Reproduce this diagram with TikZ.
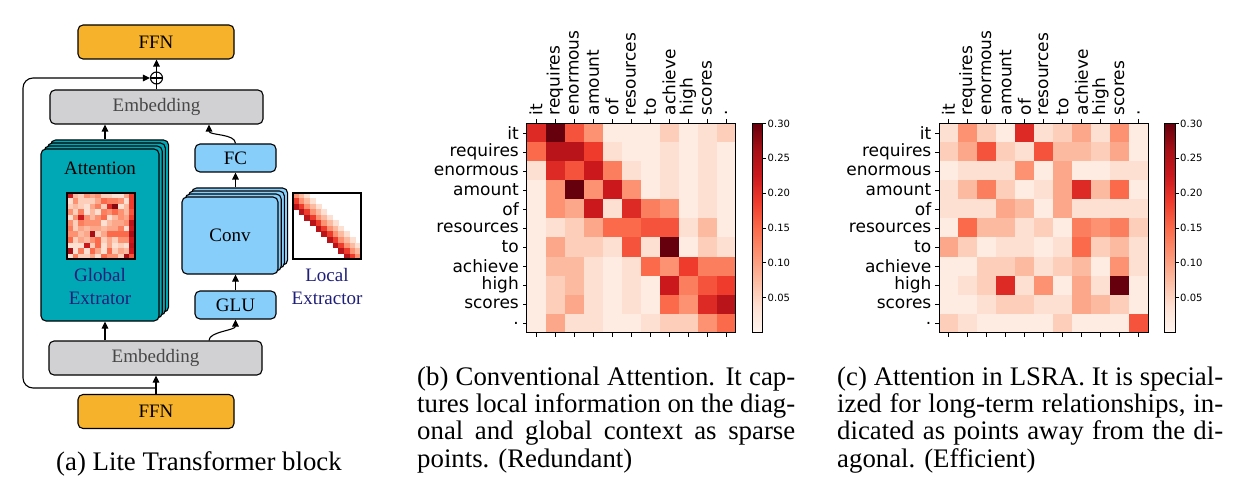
\documentclass[tikz,border=0pt]{standalone}
\usepackage{fontspec}
\setmainfont{Liberation Serif}
\newfontfamily\labfamily{DejaVu Sans}
\usetikzlibrary{arrows.meta}

\definecolor{r0}{HTML}{FFF5F0}
\definecolor{r1}{HTML}{FEEBE1}
\definecolor{r2}{HTML}{FEE0D2}
\definecolor{r3}{HTML}{FDCEBA}
\definecolor{r4}{HTML}{FCBBA1}
\definecolor{r5}{HTML}{FCA78A}
\definecolor{r6}{HTML}{FC9272}
\definecolor{r7}{HTML}{FB7E5E}
\definecolor{r8}{HTML}{FB6A4A}
\definecolor{r9}{HTML}{F5533B}
\definecolor{r10}{HTML}{EF3B2C}
\definecolor{r11}{HTML}{DD2A25}
\definecolor{r12}{HTML}{CB181D}
\definecolor{r13}{HTML}{B81419}
\definecolor{r14}{HTML}{A50F15}
\definecolor{r15}{HTML}{860811}
\definecolor{r16}{HTML}{67000D}
\definecolor{ffnorange}{HTML}{F5B22A}
\definecolor{embgray}{HTML}{D1D1D4}
\definecolor{embtext}{HTML}{474747}
\definecolor{attteal}{HTML}{00A8B5}
\definecolor{convblue}{HTML}{87CEFA}
\definecolor{navy}{HTML}{1F1F7A}

\pgfdeclareverticalshading{reds}{100bp}{color(0bp)=(r0); color(25bp)=(r0);
  color(28.125bp)=(r1); color(31.25bp)=(r2); color(34.375bp)=(r3); color(37.5bp)=(r4);
  color(40.625bp)=(r5); color(43.75bp)=(r6); color(46.875bp)=(r7); color(50bp)=(r8);
  color(53.125bp)=(r9); color(56.25bp)=(r10); color(59.375bp)=(r11); color(62.5bp)=(r12);
  color(65.625bp)=(r13); color(68.75bp)=(r14); color(71.875bp)=(r15); color(75bp)=(r16);
  color(100bp)=(r16)}

\newcommand{\labfont}{\labfamily\fontsize{17}{20}\selectfont}
\newcommand{\barfont}{\labfamily\fontsize{10}{12}\selectfont}
\newcommand{\capfont}{\fontsize{26.8}{27.4}\selectfont}

\tikzset{
  block/.style={
    draw,
    line width=1.1pt,
    rounded corners=5pt,
    inner sep=0pt,
    font=\fontsize{19}{22}\selectfont
  },
  ffnbox/.style={block, fill=ffnorange, minimum width=156pt, minimum height=34pt},
  embbox/.style={block, fill=embgray, text=embtext, minimum width=213pt, minimum height=34pt},
  attbox/.style={block, fill=attteal, minimum width=118pt, minimum height=172pt},
  convbox/.style={block, fill=convblue, minimum width=96pt, minimum height=77pt},
  smallbox/.style={block, fill=convblue, minimum width=81pt, minimum height=28pt},
  mapframe/.style={draw, line width=1.2pt, inner sep=0pt, minimum width=68pt, minimum height=66pt},
  extext/.style={align=center, text=navy, inner sep=0pt, font=\fontsize{19}{23}\selectfont},
  flow/.style={line width=1.1pt, -{Triangle[length=7pt,width=6.5pt]}},
  tick/.style={line width=0.8pt},
  rowlab/.style={anchor=east, inner sep=1pt, font=\labfont},
  collab/.style={rotate=90, anchor=west, inner sep=1pt, font=\labfont},
  barlab/.style={anchor=west, inner sep=1pt, font=\barfont},
  captext/.style={inner sep=0pt, font=\capfont}
}

% #1 name prefix, #2 left edge, #3 rows of colour levels
\newcommand{\attnmap}[3]{%
  \begin{scope}[shift={(#2,123.5)}]
    \foreach \row [count=\ri from 0] in {#3} {
      \foreach \val [count=\ci from 0] in \row {
        \fill[fill=r\val] (\ci*19,\ri*19) rectangle +(19.4,19.4);
      }
    }
    \draw[tick] (0,0) rectangle (209,209);
    \foreach \w [count=\i from 0] in {it,requires,enormous,amount,of,resources,to,achieve,high,scores,.} {
      \draw[tick] (\i*19+9.5,0) -- +(0,-4);
      \draw[tick] (\i*19+9.5,209) -- +(0,4);
      \draw[tick] (0,\i*19+9.5) -- +(-4,0);
      \node[rowlab] (#1row\i) at (-6.5,\i*19+9.5) {\w};
      \node[collab] (#1col\i) at (\i*19+9.5,-7) {\w};
    }
    \shade[shading=reds] (225.5,0) rectangle (236,209);
    \draw[tick] (225.5,0) rectangle (236,209);
    \foreach \t [count=\k] in {0.05,0.10,0.15,0.20,0.25,0.30} {
      \draw[tick] (236,{209-\t*209/0.3}) -- +(3.5,0);
      \node[barlab] (#1bar\k) at (240,{209-\t*209/0.3}) {\t};
    }
  \end{scope}}

\begin{document}
\begin{tikzpicture}[x=1pt,y=-1pt]
  \useasboundingbox (0,0) rectangle (1246,494);

  \node[ffnbox] (ffnin) at (156,411.5) {FFN};
  \node[embbox] (embin) at (155.5,358) {Embedding};

  \node[attbox] (att3) at (109.6,226) {};
  \node[attbox] (att2) at (106.4,229) {};
  \node[attbox] (att1) at (103.2,232) {};
  \node[attbox] (att) at (100,235) {};
  \node[font=\fontsize{19}{22}\selectfont] (atttitle) at (100,168) {Attention};
  \node[extext] (globtext) at (100,286.5) {Global\\Extrator};

  \node[smallbox] (glu) at (235.5,305) {GLU};
  \node[convbox] (conv3) at (239.6,226.5) {};
  \node[convbox] (conv2) at (236.4,229.5) {};
  \node[convbox] (conv1) at (233.2,232.5) {};
  \node[convbox] (conv) at (230,235.5) {Conv};
  \node[smallbox] (fc) at (235.5,158) {FC};
  \node[extext] (loctext) at (327,286.5) {Local\\Extractor};

  \node[embbox] (embout) at (156.5,107) {Embedding};
  \node[draw, circle, line width=1.1pt, minimum size=12pt, inner sep=0pt] (plus) at (156.5,78) {};
  \draw[line width=1.1pt] (plus.north) -- (plus.south) (plus.west) -- (plus.east);
  \node[ffnbox] (ffnout) at (156,42) {FFN};

  % global extractor map
  \pgfmathsetseed{11}
  \foreach \ri in {0,...,11} {
    \foreach \ci in {0,...,11} {
      \pgfmathtruncatemacro\lv{\ci==11 ? 9+6*rnd : (rnd>0.93 ? 11+5*rnd : 2+7*rnd)}
      \fill[fill=r\lv] (67+\ci*5.67,193+\ri*5.5) rectangle +(5.9,5.7);
    }
  }
  \node[mapframe] (attmap) at (101,226) {};

  % local extractor map
  \foreach \ri in {0,...,11} {
    \foreach \k/\lv in {-2/13,-1/10,0/6,1/4,2/2} {
      \pgfmathtruncatemacro\ci{\ri+\k}
      \ifnum\ci>-1 \ifnum\ci<12
        \fill[fill=r\lv] (293+\ci*5.67,193+\ri*5.5) rectangle +(5.9,5.7);
      \fi\fi
    }
  }
  \node[mapframe] (locmap) at (327,226) {};

  \coordinate (split) at (156,388);
  \coordinate (skipx) at (23,0);
  \coordinate (attx) at (105,0);
  \coordinate (glux) at (209,0);

  \draw[flow] (ffnin.north) -- (embin.south -| ffnin.north);
  \draw[flow, rounded corners=10pt] (split) -- (split -| skipx) -- (plus -| skipx) -- (plus.west);
  \draw[flow] (embin.north -| attx) -- (att.south -| attx);
  \draw[flow] (att3.north -| attx) -- (embout.south -| attx);
  \draw[flow] (embin.north -| glux) .. controls +(0,-9) and +(0,11) .. (glu.south);
  \draw[flow] (glu.north) -- (conv.south -| glu.north);
  \draw[flow] (conv3.north -| fc.south) -- (fc.south);
  \draw[flow] (fc.north) .. controls +(0,-10) and +(0,11) .. (embout.south -| glux);
  \draw[line width=1.1pt] (embout.north -| plus.south) -- (plus.south);
  \draw[flow] (plus.north) -- (ffnout.south -| plus.north);

  \node[captext, anchor=base] (capa) at (199,470.5) {(a) Lite Transformer block};

  \attnmap{b}{526.5}{
    {11,16,9,6,1,1,1,3,1,2,3},
    {8,13,13,10,2,1,1,2,1,2,1},
    {2,11,9,12,7,2,1,2,1,2,1},
    {1,6,16,6,12,6,1,2,1,2,1},
    {1,6,5,12,2,11,7,6,1,2,1},
    {1,2,3,5,8,8,9,9,2,4,1},
    {1,5,3,3,2,9,2,16,1,3,2},
    {1,4,4,2,1,2,8,6,10,7,7},
    {1,3,4,2,1,2,1,12,7,9,10},
    {1,3,5,2,1,2,1,8,6,11,13},
    {1,5,2,2,1,1,2,3,3,6,8}}

  \attnmap{c}{939}{
    {2,6,3,1,11,2,3,5,2,6,1},
    {3,5,9,3,2,9,4,4,3,5,1},
    {1,2,2,2,6,1,5,1,1,2,2},
    {2,4,7,3,1,2,5,11,4,8,1},
    {2,2,2,5,4,1,5,2,2,2,2},
    {1,8,4,4,2,3,1,7,6,7,3},
    {5,3,1,2,2,1,2,8,3,4,2},
    {1,1,3,3,4,2,3,4,1,6,2},
    {1,2,3,11,2,6,1,5,2,16,1},
    {1,1,2,3,3,2,2,5,4,3,1},
    {3,2,1,1,1,1,3,1,1,1,9}}

  \node[captext, text width=378pt, align=justify, anchor=base west] (capb) at (417,385)
    {(b) Conventional Attention. It cap-\linebreak tures local information on the diag-\linebreak
     onal and global context as sparse\linebreak points. (Redundant)};
  \node[captext, text width=386pt, align=justify, anchor=base west] (capc) at (837,385)
    {(c) Attention in LSRA. It is special-\linebreak ized for long-term relationships, in-\linebreak
     dicated as points away from the di-\linebreak agonal. (Efficient)};
\end{tikzpicture}
\end{document}
